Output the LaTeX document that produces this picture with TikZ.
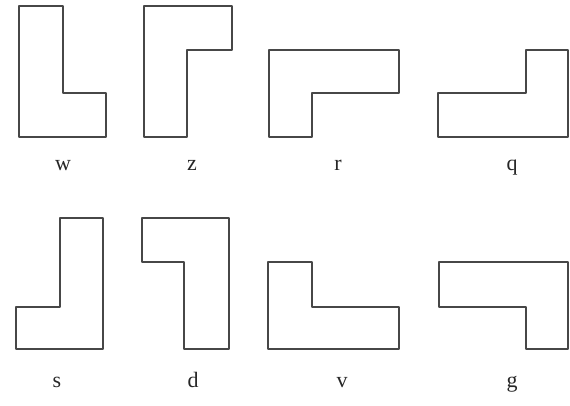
\documentclass[tikz,border=0pt]{standalone}
\usepackage{fontspec}
\setmainfont{Liberation Serif}
\begin{document}
\begin{tikzpicture}[x=1pt,y=-1pt,
  piece/.style={draw=black!72,line width=2.6pt,line join=round},
  lab/.style={anchor=base,inner sep=0pt,font=\fontsize{22}{24}\selectfont,text=black!85}]
\useasboundingbox (0,0) rectangle (570,405);
% row 1
\draw[piece] (19,6)--(63,6)--(63,93)--(106,93)--(106,137)--(19,137)--cycle;
\draw[piece] (144,6)--(232,6)--(232,50)--(187,50)--(187,137)--(144,137)--cycle;
\draw[piece] (269,50)--(399,50)--(399,93)--(312,93)--(312,137)--(269,137)--cycle;
\draw[piece] (526,50)--(568,50)--(568,137)--(438,137)--(438,93)--(526,93)--cycle;
% row 2
\draw[piece] (60,218)--(103,218)--(103,349)--(16,349)--(16,307)--(60,307)--cycle;
\draw[piece] (142,218)--(229,218)--(229,349)--(184,349)--(184,262)--(142,262)--cycle;
\draw[piece] (268,262)--(312,262)--(312,307)--(399,307)--(399,349)--(268,349)--cycle;
\draw[piece] (439,262)--(568,262)--(568,349)--(526,349)--(526,307)--(439,307)--cycle;
% labels
\node[lab] (lw) at (63,170) {w};
\node[lab] (lz) at (192,170) {z};
\node[lab] (lr) at (338,170) {r};
\node[lab] (lq) at (512,170) {q};
\node[lab] (ls) at (57,387) {s};
\node[lab] (ld) at (193,387) {d};
\node[lab] (lv) at (342,387) {v};
\node[lab] (lg) at (512,387) {g};
\end{tikzpicture}
\end{document}
